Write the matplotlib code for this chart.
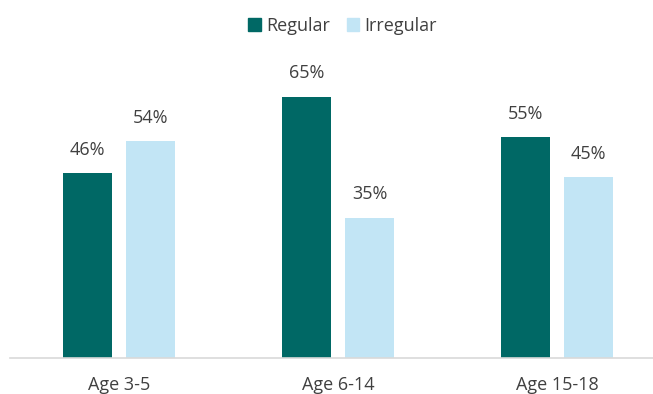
import numpy as np
import matplotlib.pyplot as plt
from matplotlib.patches import Patch

categories = ['Age 3-5', 'Age 6-14', 'Age 15-18']
regular = [46, 65, 55]
irregular = [54, 35, 45]
series_names = ['Regular', 'Irregular']

plt.rcParams['font.family'] = ['Open Sans', 'DejaVu Sans']

dark = '#006865'
light = '#c2e5f5'
text_col = '#404040'

fig = plt.figure(figsize=(6.53, 3.94), dpi=100)
ax = fig.add_axes([9.5 / 653, 36 / 394, (653 - 9.5) / 653, 281 / 394])

x = np.arange(len(categories))
w = 0.224
b1 = ax.bar(x - 0.143, regular, w, color=dark)
b2 = ax.bar(x + 0.145, irregular, w, color=light)

# value labels above the bars
for bars, vals in [(b1, regular), (b2, irregular)]:
    for bar, v in zip(bars, vals):
        ax.annotate(f'{v}%', (bar.get_x() + bar.get_width() / 2, v),
                    xytext=(0, 17), textcoords='offset points',
                    ha='center', va='center', fontsize=13, color=text_col)

ax.set_xlim(-0.5, (653 - 119) / 219)
ax.set_ylim(0, 70)
ax.set_xticks(x)
ax.set_xticklabels(categories, fontsize=13, color=text_col)
ax.tick_params(axis='x', length=0, pad=13)
ax.set_yticks([])
for s in ['top', 'right', 'left']:
    ax.spines[s].set_visible(False)
ax.spines['bottom'].set_color('#d9d9d9')
ax.spines['bottom'].set_linewidth(1.2)

handles = [Patch(color=dark), Patch(color=light)]
fig.legend(handles, series_names, loc='center', bbox_to_anchor=(0.525, 0.935),
           ncol=2, frameon=False, fontsize=13, handlelength=0.7, handleheight=0.7,
           handletextpad=0.3, columnspacing=0.9, labelcolor=text_col)

fig.savefig('out.png', dpi=100)
